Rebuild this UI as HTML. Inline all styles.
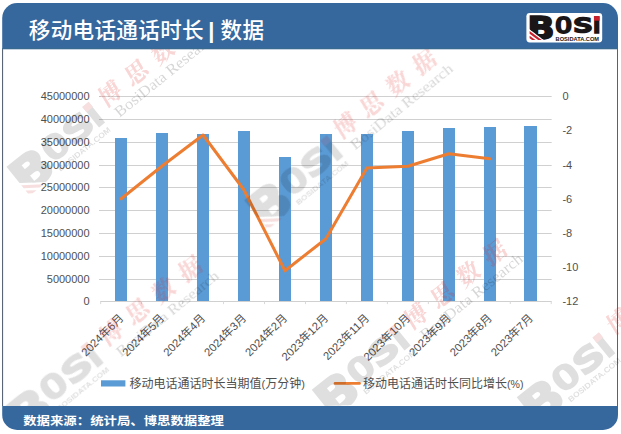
<!DOCTYPE html>
<html lang="zh-CN"><head><meta charset="utf-8"><title>移动电话通话时长 | 数据</title>
<style>html,body{margin:0;padding:0;background:#fff;}svg{display:block;font-family:'Liberation Sans','Noto Sans CJK SC',sans-serif;}</style>
</head><body>
<svg width="621" height="434" viewBox="0 0 621 434">
<defs><clipPath id="bcut"><polygon points="0,0 30,0 30,30 21.4,30 0,14.0"/></clipPath>
<clipPath id="inner"><rect x="0" y="49.3" width="621" height="356.7"/></clipPath><filter id="soft" x="0" y="0" width="621" height="434" filterUnits="userSpaceOnUse"><feGaussianBlur stdDeviation="0.6"/></filter></defs>
<rect x="0" y="0" width="621" height="434" fill="#ffffff"/>
<rect x="2.2" y="3" width="615.8" height="427" rx="15" ry="15" fill="#36689e"/>
<rect x="2.2" y="48" width="615.8" height="1.3" fill="#38698f"/>
<rect x="3" y="49.3" width="614.2" height="356.7" fill="#ffffff"/>
<rect x="2.2" y="49.3" width="0.9" height="356.7" fill="#5a5f66"/>
<rect x="617.1" y="49.3" width="0.9" height="356.7" fill="#5a5f66"/>
<line x1="99.0" y1="96.50" x2="551.7" y2="96.50" stroke="#d0d0d0" stroke-width="1"/>
<line x1="99.0" y1="119.50" x2="551.7" y2="119.50" stroke="#d0d0d0" stroke-width="1"/>
<line x1="99.0" y1="142.50" x2="551.7" y2="142.50" stroke="#d0d0d0" stroke-width="1"/>
<line x1="99.0" y1="165.50" x2="551.7" y2="165.50" stroke="#d0d0d0" stroke-width="1"/>
<line x1="99.0" y1="187.50" x2="551.7" y2="187.50" stroke="#d0d0d0" stroke-width="1"/>
<line x1="99.0" y1="210.50" x2="551.7" y2="210.50" stroke="#d0d0d0" stroke-width="1"/>
<line x1="99.0" y1="233.50" x2="551.7" y2="233.50" stroke="#d0d0d0" stroke-width="1"/>
<line x1="99.0" y1="256.50" x2="551.7" y2="256.50" stroke="#d0d0d0" stroke-width="1"/>
<line x1="99.0" y1="279.50" x2="551.7" y2="279.50" stroke="#d0d0d0" stroke-width="1"/>
<line x1="100.2" y1="301.50" x2="551.7" y2="301.50" stroke="#d0d0d0" stroke-width="1"/>
<line x1="100.67" y1="301.50" x2="100.67" y2="304.10" stroke="#d9d9d9" stroke-width="1"/>
<line x1="141.63" y1="301.50" x2="141.63" y2="304.10" stroke="#d9d9d9" stroke-width="1"/>
<line x1="182.59" y1="301.50" x2="182.59" y2="304.10" stroke="#d9d9d9" stroke-width="1"/>
<line x1="223.55" y1="301.50" x2="223.55" y2="304.10" stroke="#d9d9d9" stroke-width="1"/>
<line x1="264.51" y1="301.50" x2="264.51" y2="304.10" stroke="#d9d9d9" stroke-width="1"/>
<line x1="305.47" y1="301.50" x2="305.47" y2="304.10" stroke="#d9d9d9" stroke-width="1"/>
<line x1="346.43" y1="301.50" x2="346.43" y2="304.10" stroke="#d9d9d9" stroke-width="1"/>
<line x1="387.39" y1="301.50" x2="387.39" y2="304.10" stroke="#d9d9d9" stroke-width="1"/>
<line x1="428.35" y1="301.50" x2="428.35" y2="304.10" stroke="#d9d9d9" stroke-width="1"/>
<line x1="469.31" y1="301.50" x2="469.31" y2="304.10" stroke="#d9d9d9" stroke-width="1"/>
<line x1="510.27" y1="301.50" x2="510.27" y2="304.10" stroke="#d9d9d9" stroke-width="1"/>
<line x1="551.23" y1="301.50" x2="551.23" y2="304.10" stroke="#d9d9d9" stroke-width="1"/>
<rect x="115" y="138" width="12" height="163" fill="#5b9bd5"/>
<rect x="156" y="133" width="12" height="168" fill="#5b9bd5"/>
<rect x="197" y="134" width="12" height="167" fill="#5b9bd5"/>
<rect x="238" y="131" width="12" height="170" fill="#5b9bd5"/>
<rect x="279" y="157" width="12" height="144" fill="#5b9bd5"/>
<rect x="320" y="134" width="12" height="167" fill="#5b9bd5"/>
<rect x="361" y="134" width="12" height="167" fill="#5b9bd5"/>
<rect x="402" y="131" width="12" height="170" fill="#5b9bd5"/>
<rect x="443" y="128" width="12" height="173" fill="#5b9bd5"/>
<rect x="484" y="127" width="12" height="174" fill="#5b9bd5"/>
<rect x="524" y="126" width="13" height="175" fill="#5b9bd5"/>
<polyline fill="none" stroke="#ed7d31" stroke-width="3" stroke-linejoin="round" stroke-linecap="round" points="121.15,198.75 162.11,166.00 203.07,135.00 244.03,190.00 284.99,270.75 325.95,238.75 366.91,168.00 407.87,166.25 448.83,153.75 489.79,158.75"/>
<text x="89.6" y="100.30" font-size="11" fill="#4f4f4f" text-anchor="end">45000000</text>
<text x="89.6" y="123.30" font-size="11" fill="#4f4f4f" text-anchor="end">40000000</text>
<text x="89.6" y="146.30" font-size="11" fill="#4f4f4f" text-anchor="end">35000000</text>
<text x="89.6" y="169.30" font-size="11" fill="#4f4f4f" text-anchor="end">30000000</text>
<text x="89.6" y="191.30" font-size="11" fill="#4f4f4f" text-anchor="end">25000000</text>
<text x="89.6" y="214.30" font-size="11" fill="#4f4f4f" text-anchor="end">20000000</text>
<text x="89.6" y="237.30" font-size="11" fill="#4f4f4f" text-anchor="end">15000000</text>
<text x="89.6" y="260.30" font-size="11" fill="#4f4f4f" text-anchor="end">10000000</text>
<text x="89.6" y="283.30" font-size="11" fill="#4f4f4f" text-anchor="end">5000000</text>
<text x="89.6" y="305.30" font-size="11" fill="#4f4f4f" text-anchor="end">0</text>
<text x="562.4" y="100.30" font-size="11" fill="#4f4f4f">0</text>
<text x="562.4" y="134.47" font-size="11" fill="#4f4f4f">-2</text>
<text x="562.4" y="168.63" font-size="11" fill="#4f4f4f">-4</text>
<text x="562.4" y="202.80" font-size="11" fill="#4f4f4f">-6</text>
<text x="562.4" y="236.97" font-size="11" fill="#4f4f4f">-8</text>
<text x="562.4" y="271.13" font-size="11" fill="#4f4f4f">-10</text>
<text x="562.4" y="305.30" font-size="11" fill="#4f4f4f">-12</text>
<text transform="translate(124.15,318.75) rotate(-45)" font-size="11.3" fill="#4f4f4f" text-anchor="end">2024年6月</text>
<text transform="translate(165.11,318.75) rotate(-45)" font-size="11.3" fill="#4f4f4f" text-anchor="end">2024年5月</text>
<text transform="translate(206.07,318.75) rotate(-45)" font-size="11.3" fill="#4f4f4f" text-anchor="end">2024年4月</text>
<text transform="translate(247.03,318.75) rotate(-45)" font-size="11.3" fill="#4f4f4f" text-anchor="end">2024年3月</text>
<text transform="translate(287.99,318.75) rotate(-45)" font-size="11.3" fill="#4f4f4f" text-anchor="end">2024年2月</text>
<text transform="translate(328.95,318.75) rotate(-45)" font-size="11.3" fill="#4f4f4f" text-anchor="end">2023年12月</text>
<text transform="translate(369.91,318.75) rotate(-45)" font-size="11.3" fill="#4f4f4f" text-anchor="end">2023年11月</text>
<text transform="translate(410.87,318.75) rotate(-45)" font-size="11.3" fill="#4f4f4f" text-anchor="end">2023年10月</text>
<text transform="translate(451.83,318.75) rotate(-45)" font-size="11.3" fill="#4f4f4f" text-anchor="end">2023年9月</text>
<text transform="translate(492.79,318.75) rotate(-45)" font-size="11.3" fill="#4f4f4f" text-anchor="end">2023年8月</text>
<text transform="translate(533.75,318.75) rotate(-45)" font-size="11.3" fill="#4f4f4f" text-anchor="end">2023年7月</text>
<rect x="101" y="380.3" width="24.4" height="6.2" fill="#5b9bd5"/>
<text x="129.6" y="387.6" font-size="12" fill="#4f4f4f">移动电话通话时长当期值<tspan font-size="11">(</tspan>万分钟<tspan font-size="11">)</tspan></text>
<line x1="335" y1="383.4" x2="359.5" y2="383.4" stroke="#ed7d31" stroke-width="2.6" stroke-linecap="round"/>
<text x="363" y="387.6" font-size="12" fill="#4f4f4f">移动电话通话时长同比增长<tspan font-size="10.6">(%)</tspan></text>
<g clip-path="url(#inner)"><g filter="url(#soft)">
<g transform="translate(110.8,93.4) rotate(-39)"><g transform="translate(-132.2,-12.3) scale(1.5)" opacity="0.125"><g font-family="'DejaVu Sans','Liberation Sans',sans-serif" font-weight="bold" stroke-linejoin="miter"><g clip-path="url(#bcut)"><text transform="translate(0.8,26.16) scale(1.2,1.047)" font-size="30" fill="#000000" stroke="#000000" stroke-width="1.5">B</text></g><polygon points="3.2,18.2 15.3,27.2 11.8,27.2 3.2,20.8" fill="#c00000"/><polygon points="3.2,22.8 9.1,27.2 5.7,27.2 3.2,25.3" fill="#c00000"/><text transform="translate(28.91,19.8) scale(1.455,1.093)" font-family="'DejaVu Sans Mono','DejaVu Sans',sans-serif" font-weight="normal" font-size="19" fill="#000000" stroke="#000000" stroke-width="1.7">O</text><text transform="translate(47.34,19.52) scale(1.607,1.054)" font-family="'DejaVu Sans Mono','DejaVu Sans',sans-serif" font-weight="normal" font-size="19" fill="#000000" stroke="#000000" stroke-width="2.3">S</text><text transform="translate(66.95,20.13) scale(1.061,1.093)" font-size="19" fill="#000000" stroke="#000000" stroke-width="1.6">i</text><rect x="67.6" y="3.2" width="5.6" height="4.6" fill="#c00000"/><text x="29.2" y="27.8" font-family="'Liberation Sans',sans-serif" font-size="5.2" fill="#000000" textLength="43.5" lengthAdjust="spacingAndGlyphs">BOSIDATA.COM</text></g></g><text transform="translate(-13.5,8.4) skewX(-8)" font-family="'Noto Serif CJK SC','Noto Sans CJK SC',serif" font-weight="700" font-size="23.5" letter-spacing="10.3" fill="#e02020" opacity="0.19">博思数据</text><text x="-8.5" y="24.5" font-family="'Liberation Serif',serif" font-size="15.5" fill="#000000" opacity="0.16" textLength="127" lengthAdjust="spacingAndGlyphs">BosiData Research</text></g>
<g transform="translate(346.2,125.6) rotate(-39)"><g transform="translate(-131.1,-9.2) scale(1.5)" opacity="0.125"><g font-family="'DejaVu Sans','Liberation Sans',sans-serif" font-weight="bold" stroke-linejoin="miter"><g clip-path="url(#bcut)"><text transform="translate(0.8,26.16) scale(1.2,1.047)" font-size="30" fill="#000000" stroke="#000000" stroke-width="1.5">B</text></g><polygon points="3.2,18.2 15.3,27.2 11.8,27.2 3.2,20.8" fill="#c00000"/><polygon points="3.2,22.8 9.1,27.2 5.7,27.2 3.2,25.3" fill="#c00000"/><text transform="translate(28.91,19.8) scale(1.455,1.093)" font-family="'DejaVu Sans Mono','DejaVu Sans',sans-serif" font-weight="normal" font-size="19" fill="#000000" stroke="#000000" stroke-width="1.7">O</text><text transform="translate(47.34,19.52) scale(1.607,1.054)" font-family="'DejaVu Sans Mono','DejaVu Sans',sans-serif" font-weight="normal" font-size="19" fill="#000000" stroke="#000000" stroke-width="2.3">S</text><text transform="translate(66.95,20.13) scale(1.061,1.093)" font-size="19" fill="#000000" stroke="#000000" stroke-width="1.6">i</text><rect x="67.6" y="3.2" width="5.6" height="4.6" fill="#c00000"/><text x="29.2" y="27.8" font-family="'Liberation Sans',sans-serif" font-size="5.2" fill="#000000" textLength="43.5" lengthAdjust="spacingAndGlyphs">BOSIDATA.COM</text></g></g><text transform="translate(-13.5,8.4) skewX(-8)" font-family="'Noto Serif CJK SC','Noto Sans CJK SC',serif" font-weight="700" font-size="23.5" letter-spacing="10.3" fill="#e02020" opacity="0.19">博思数据</text><text x="-8.5" y="24.5" font-family="'Liberation Serif',serif" font-size="15.5" fill="#000000" opacity="0.16" textLength="127" lengthAdjust="spacingAndGlyphs">BosiData Research</text></g>
<g transform="translate(112.0,332.7) rotate(-39)"><g transform="translate(-134.8,-13.5) scale(1.5)" opacity="0.125"><g font-family="'DejaVu Sans','Liberation Sans',sans-serif" font-weight="bold" stroke-linejoin="miter"><g clip-path="url(#bcut)"><text transform="translate(0.8,26.16) scale(1.2,1.047)" font-size="30" fill="#000000" stroke="#000000" stroke-width="1.5">B</text></g><polygon points="3.2,18.2 15.3,27.2 11.8,27.2 3.2,20.8" fill="#c00000"/><polygon points="3.2,22.8 9.1,27.2 5.7,27.2 3.2,25.3" fill="#c00000"/><text transform="translate(28.91,19.8) scale(1.455,1.093)" font-family="'DejaVu Sans Mono','DejaVu Sans',sans-serif" font-weight="normal" font-size="19" fill="#000000" stroke="#000000" stroke-width="1.7">O</text><text transform="translate(47.34,19.52) scale(1.607,1.054)" font-family="'DejaVu Sans Mono','DejaVu Sans',sans-serif" font-weight="normal" font-size="19" fill="#000000" stroke="#000000" stroke-width="2.3">S</text><text transform="translate(66.95,20.13) scale(1.061,1.093)" font-size="19" fill="#000000" stroke="#000000" stroke-width="1.6">i</text><rect x="67.6" y="3.2" width="5.6" height="4.6" fill="#c00000"/><text x="29.2" y="27.8" font-family="'Liberation Sans',sans-serif" font-size="5.2" fill="#000000" textLength="43.5" lengthAdjust="spacingAndGlyphs">BOSIDATA.COM</text></g></g><text transform="translate(-13.5,8.4) skewX(-8)" font-family="'Noto Serif CJK SC','Noto Sans CJK SC',serif" font-weight="700" font-size="23.5" letter-spacing="10.3" fill="#e02020" opacity="0.19">博思数据</text><text x="-8.5" y="24.5" font-family="'Liberation Serif',serif" font-size="15.5" fill="#000000" opacity="0.16" textLength="127" lengthAdjust="spacingAndGlyphs">BosiData Research</text></g>
<g transform="translate(416.5,316.0) rotate(-39)"><g transform="translate(-132.6,-12.3) scale(1.5)" opacity="0.125"><g font-family="'DejaVu Sans','Liberation Sans',sans-serif" font-weight="bold" stroke-linejoin="miter"><g clip-path="url(#bcut)"><text transform="translate(0.8,26.16) scale(1.2,1.047)" font-size="30" fill="#000000" stroke="#000000" stroke-width="1.5">B</text></g><polygon points="3.2,18.2 15.3,27.2 11.8,27.2 3.2,20.8" fill="#c00000"/><polygon points="3.2,22.8 9.1,27.2 5.7,27.2 3.2,25.3" fill="#c00000"/><text transform="translate(28.91,19.8) scale(1.455,1.093)" font-family="'DejaVu Sans Mono','DejaVu Sans',sans-serif" font-weight="normal" font-size="19" fill="#000000" stroke="#000000" stroke-width="1.7">O</text><text transform="translate(47.34,19.52) scale(1.607,1.054)" font-family="'DejaVu Sans Mono','DejaVu Sans',sans-serif" font-weight="normal" font-size="19" fill="#000000" stroke="#000000" stroke-width="2.3">S</text><text transform="translate(66.95,20.13) scale(1.061,1.093)" font-size="19" fill="#000000" stroke="#000000" stroke-width="1.6">i</text><rect x="67.6" y="3.2" width="5.6" height="4.6" fill="#c00000"/><text x="29.2" y="27.8" font-family="'Liberation Sans',sans-serif" font-size="5.2" fill="#000000" textLength="43.5" lengthAdjust="spacingAndGlyphs">BOSIDATA.COM</text></g></g><text transform="translate(-13.5,8.4) skewX(-8)" font-family="'Noto Serif CJK SC','Noto Sans CJK SC',serif" font-weight="700" font-size="23.5" letter-spacing="10.3" fill="#e02020" opacity="0.19">博思数据</text><text x="-8.5" y="24.5" font-family="'Liberation Serif',serif" font-size="15.5" fill="#000000" opacity="0.16" textLength="127" lengthAdjust="spacingAndGlyphs">BosiData Research</text></g>
<g transform="translate(619.0,321.0) rotate(-39)"><g transform="translate(-132.5,-8.7) scale(1.5)" opacity="0.125"><g font-family="'DejaVu Sans','Liberation Sans',sans-serif" font-weight="bold" stroke-linejoin="miter"><g clip-path="url(#bcut)"><text transform="translate(0.8,26.16) scale(1.2,1.047)" font-size="30" fill="#000000" stroke="#000000" stroke-width="1.5">B</text></g><polygon points="3.2,18.2 15.3,27.2 11.8,27.2 3.2,20.8" fill="#c00000"/><polygon points="3.2,22.8 9.1,27.2 5.7,27.2 3.2,25.3" fill="#c00000"/><text transform="translate(28.91,19.8) scale(1.455,1.093)" font-family="'DejaVu Sans Mono','DejaVu Sans',sans-serif" font-weight="normal" font-size="19" fill="#000000" stroke="#000000" stroke-width="1.7">O</text><text transform="translate(47.34,19.52) scale(1.607,1.054)" font-family="'DejaVu Sans Mono','DejaVu Sans',sans-serif" font-weight="normal" font-size="19" fill="#000000" stroke="#000000" stroke-width="2.3">S</text><text transform="translate(66.95,20.13) scale(1.061,1.093)" font-size="19" fill="#000000" stroke="#000000" stroke-width="1.6">i</text><rect x="67.6" y="3.2" width="5.6" height="4.6" fill="#c00000"/><text x="29.2" y="27.8" font-family="'Liberation Sans',sans-serif" font-size="5.2" fill="#000000" textLength="43.5" lengthAdjust="spacingAndGlyphs">BOSIDATA.COM</text></g></g><text transform="translate(-13.5,8.4) skewX(-8)" font-family="'Noto Serif CJK SC','Noto Sans CJK SC',serif" font-weight="700" font-size="23.5" letter-spacing="10.3" fill="#e02020" opacity="0.19">博思数据</text><text x="-8.5" y="24.5" font-family="'Liberation Serif',serif" font-size="15.5" fill="#000000" opacity="0.16" textLength="127" lengthAdjust="spacingAndGlyphs">BosiData Research</text></g>
</g></g>
<text y="37.9" font-size="21.6" letter-spacing="0.3" font-weight="500" fill="#ffffff"><tspan x="28.8">移动电话通话时长</tspan><tspan x="208.3" font-weight="700" font-size="22">|</tspan><tspan x="220.6">数据</tspan></text>
<text transform="translate(23.2,424.6) scale(1,0.88)" font-size="13.4" font-weight="700" fill="#ffffff">数据来源：统计局、博思数据整理</text>
<rect x="526.4" y="12.9" width="75.8" height="29.5" rx="3.4" ry="3.4" fill="#ffffff"/>
<g transform="translate(526.4,12.9)"><g font-family="'DejaVu Sans','Liberation Sans',sans-serif" font-weight="bold" stroke-linejoin="miter"><g clip-path="url(#bcut)"><text transform="translate(0.8,26.16) scale(1.2,1.047)" font-size="30" fill="#1a1617" stroke="#1a1617" stroke-width="1.5">B</text></g><polygon points="3.2,18.2 15.3,27.2 11.8,27.2 3.2,20.8" fill="#c8202c"/><polygon points="3.2,22.8 9.1,27.2 5.7,27.2 3.2,25.3" fill="#c8202c"/><text transform="translate(28.91,19.8) scale(1.455,1.093)" font-family="'DejaVu Sans Mono','DejaVu Sans',sans-serif" font-weight="normal" font-size="19" fill="#1a1617" stroke="#1a1617" stroke-width="1.7">O</text><text transform="translate(47.34,19.52) scale(1.607,1.054)" font-family="'DejaVu Sans Mono','DejaVu Sans',sans-serif" font-weight="normal" font-size="19" fill="#1a1617" stroke="#1a1617" stroke-width="2.3">S</text><text transform="translate(66.95,20.13) scale(1.061,1.093)" font-size="19" fill="#1a1617" stroke="#1a1617" stroke-width="1.6">i</text><rect x="67.6" y="3.2" width="5.6" height="4.6" fill="#c8202c"/><text x="29.2" y="27.8" font-family="'Liberation Sans',sans-serif" font-size="5.2" fill="#1a1617" textLength="43.5" lengthAdjust="spacingAndGlyphs">BOSIDATA.COM</text></g></g>
</svg>
</body></html>
